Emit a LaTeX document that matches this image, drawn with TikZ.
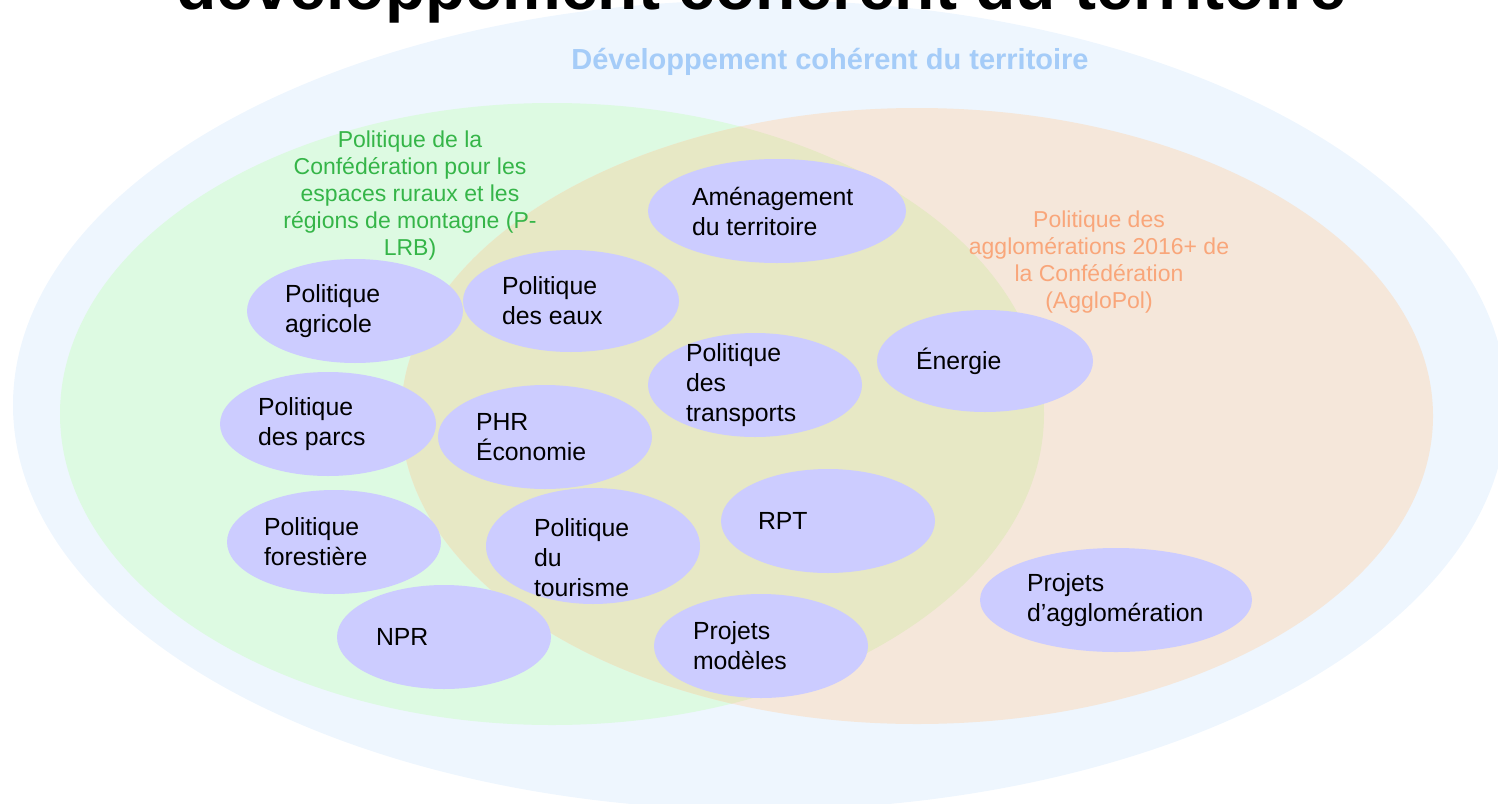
\documentclass[tikz,border=0pt]{standalone}
\usepackage{fontspec}
\setmainfont{Liberation Sans}
\usetikzlibrary{shapes.geometric}

\definecolor{terrblue}{HTML}{EEF6FE}
\definecolor{ruralgreen}{HTML}{DDFAE2}
\definecolor{agglobeige}{HTML}{F5E7DA}
\definecolor{mixolive}{HTML}{E7E8C5}
\definecolor{lavender}{HTML}{CCCCFF}
\definecolor{greentext}{HTML}{35B548}
\definecolor{orangetext}{HTML}{F9A67A}
\definecolor{bluetext}{HTML}{A5CCF8}

\tikzset{
    bubble/.style={ellipse, fill=lavender, inner sep=0pt},
    bubtxt/.style={anchor=west, align=left, inner sep=0pt, font=\fontsize{12.4}{15}\selectfont},
    setlabel/.style={align=center, inner sep=0pt, font=\fontsize{11.5}{13.5}\selectfont}
}

\begin{document}
\begin{tikzpicture}[x=0.5pt, y=-0.5pt]
    \useasboundingbox (0,0) rectangle (1498,803);
    \clip (0,0) rectangle (1498,803);

    % Sets
    \fill[terrblue] (760,405) ellipse [x radius=747, y radius=405];
    \fill[ruralgreen] (552,414) ellipse [x radius=492, y radius=311];
    \fill[agglobeige] (917,416) ellipse [x radius=516, y radius=308];
    \begin{scope}
        \clip (552,414) ellipse [x radius=492, y radius=311];
        \fill[mixolive] (917,416) ellipse [x radius=516, y radius=308];
    \end{scope}

    % Title (cut at the top)
    \node[anchor=base, inner sep=0pt, font=\fontsize{33}{36}\selectfont\bfseries] (title) at (761,10) {développement cohérent du territoire};

    % Set labels
    \node[anchor=base, inner sep=0pt, text=bluetext, font=\fontsize{14.5}{17}\selectfont\bfseries] (terr) at (830,69) {Développement cohérent du territoire};
    \node[setlabel, text=greentext] (plrb) at (410,196) {Politique de la\\Confédération pour les\\espaces ruraux et les\\régions de montagne (P-\\LRB)};
    \node[setlabel, text=orangetext] (agglopol) at (1099,262) {Politique des\\agglomérations 2016+ de\\la Confédération\\(AggloPol)};

    % Policies
    \node[bubble, minimum width=129pt, minimum height=52pt] (amen) at (777,211) {};
    \node[bubtxt] at ([xshift=22pt]amen.west) {Aménagement\\du territoire};

    \node[bubble, minimum width=108pt, minimum height=51pt] (eaux) at (571,301) {};
    \node[bubtxt] at ([xshift=19.5pt]eaux.west) {Politique\\des eaux};

    \node[bubble, minimum width=108pt, minimum height=52pt] (agri) at (355,311) {};
    \node[bubtxt] at ([xshift=19pt]agri.west) {Politique\\agricole};

    \node[bubble, minimum width=107pt, minimum height=52pt] (transp) at (755,385) {};
    \node[bubtxt] at ([xshift=19pt]transp.west) {Politique\\des\\transports};

    \node[bubble, minimum width=108pt, minimum height=51pt] (energie) at (985,361) {};
    \node[bubtxt] at ([xshift=19.5pt]energie.west) {Énergie};

    \node[bubble, minimum width=108pt, minimum height=52pt] (parcs) at (328,424) {};
    \node[bubtxt] at ([xshift=19pt]parcs.west) {Politique\\des parcs};

    \node[bubble, minimum width=107pt, minimum height=52pt] (phr) at (545,437) {};
    \node[bubtxt] at ([xshift=19pt]phr.west) {PHR\\Économie};

    \node[bubble, minimum width=107pt, minimum height=52pt] (forest) at (334,542) {};
    \node[bubtxt] at ([xshift=18.5pt]forest.west) {Politique\\forestière};

    \node[bubble, minimum width=107pt, minimum height=58pt] (tourisme) at (593,546) {};
    \node[bubtxt] at ([xshift=24pt, yshift=-6pt]tourisme.west) {Politique\\du\\tourisme};

    \node[bubble, minimum width=107pt, minimum height=52pt] (rpt) at (828,521) {};
    \node[bubtxt] at ([xshift=18.5pt]rpt.west) {RPT};

    \node[bubble, minimum width=107pt, minimum height=52pt] (npr) at (444,637) {};
    \node[bubtxt] at ([xshift=19.5pt]npr.west) {NPR};

    \node[bubble, minimum width=107pt, minimum height=52pt] (modeles) at (761,646) {};
    \node[bubtxt] at ([xshift=19.5pt]modeles.west) {Projets\\modèles};

    \node[bubble, minimum width=136pt, minimum height=52pt] (agglo) at (1116,600) {};
    \node[bubtxt] at ([xshift=23.5pt]agglo.west) {Projets\\d’agglomération};
\end{tikzpicture}
\end{document}
